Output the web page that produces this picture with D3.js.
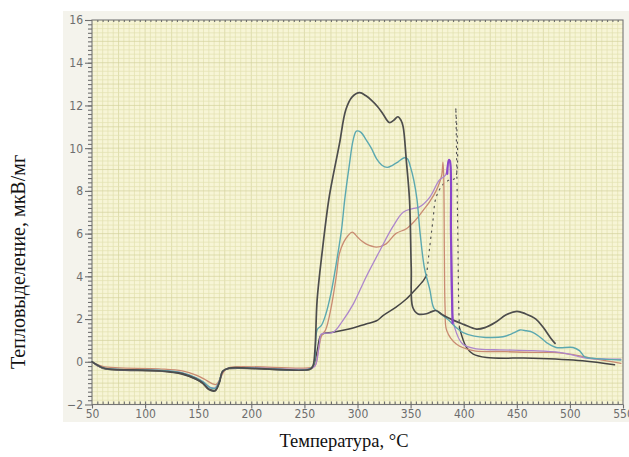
<!DOCTYPE html>
<html>
<head>
<meta charset="utf-8">
<script src="https://cdn.jsdelivr.net/npm/d3@7"></script>
<style>
  body { margin: 0; background: #fff; }
  .tick text { font-family: "DejaVu Sans Condensed", "DejaVu Sans", sans-serif; fill: #6d6d6d; font-size: 12px; }
</style>
</head>
<body>
<div id="dsc"></div>
<script>
// dimensions of the page and of the plot area
var W = 629, H = 457;
var plot = {left: 92, right: 623, top: 20, bottom: 404.5};

// ---- data ----
var xTicks = [50, 100, 150, 200, 250, 300, 350, 400, 450, 500, 550];
var yTicks = [-2, 0, 2, 4, 6, 8, 10, 12, 14, 16];

// dark curve with the big peak
var tA = [50, 55, 60, 66, 113, 135, 148, 154, 160, 166, 170, 173, 179, 207, 255, 258, 260, 262, 267, 273, 277, 283, 289, 295, 302, 308, 313, 319, 324, 330, 334, 338, 341, 343, 346, 349, 350.6, 352, 357, 365, 370, 374, 380, 390, 400, 412, 420, 430, 440, 450, 458, 468, 475, 482, 486];
var vA = [0, -0.15, -0.28, -0.34, -0.42, -0.55, -0.8, -0.98, -1.28, -1.34, -0.95, -0.45, -0.3, -0.32, -0.35, -0.2, 0.6, 2.9, 5.25, 7.6, 8.7, 10.2, 11.8, 12.4, 12.6, 12.45, 12.25, 11.94, 11.6, 11.2, 11.3, 11.47, 11.3, 11.0, 9.4, 7.56, 4.4, 2.55, 2.24, 2.25, 2.35, 2.4, 2.2, 1.95, 1.75, 1.53, 1.6, 1.85, 2.2, 2.36, 2.25, 2.0, 1.6, 1.1, 0.86];

// teal curve
var tT = [50, 60, 66, 113, 135, 148, 155, 161, 166, 170, 173, 179, 207, 255, 259, 262, 266, 270, 275, 280, 285, 288, 292, 296, 299, 303, 308, 313, 318, 323, 328, 333, 338, 344, 347, 350, 353, 356, 359, 363, 368, 372, 377, 382, 387, 393, 399, 410, 421, 437, 447, 453, 459, 465, 472, 478, 487, 503, 509, 514, 525, 548];
var vT = [0, -0.27, -0.33, -0.4, -0.52, -0.75, -0.95, -1.2, -1.24, -0.9, -0.45, -0.3, -0.31, -0.33, -0.1, 1.5, 1.7, 2.2, 3.2, 4.6, 6.2, 7.6, 9.1, 10.4, 10.8, 10.75, 10.4, 10.0, 9.5, 9.2, 9.1, 9.2, 9.35, 9.55, 9.5, 9.1, 8.5, 7.6, 6.0, 4.4, 3.4, 2.5, 2.3, 2.1, 1.9, 1.6, 1.38, 1.2, 1.14, 1.17, 1.35, 1.49, 1.45, 1.38, 1.15, 0.9, 0.67, 0.67, 0.52, 0.23, 0.15, 0.08];

// salmon curve
var tS = [50, 60, 113, 135, 148, 156, 163, 167, 171, 175, 180, 255, 260, 263, 266, 270, 275, 280, 283, 287, 291, 295, 300, 304, 308, 318, 327, 336, 346, 354, 362, 368, 374, 378, 379.5, 380.5, 381.2, 381.8, 382.5, 384, 393, 409, 434, 465, 484, 503, 525, 548];
var vS = [0, -0.22, -0.33, -0.43, -0.62, -0.82, -1.02, -1.06, -0.75, -0.4, -0.26, -0.28, -0.18, 0.5, 1.2, 1.5, 2.5, 4.0, 5.07, 5.6, 5.9, 6.07, 5.84, 5.65, 5.52, 5.37, 5.52, 6.0, 6.23, 6.6, 7.1, 7.5, 8.0, 8.5, 8.8, 9.35, 8.6, 5.0, 2.5, 1.46, 0.83, 0.52, 0.48, 0.44, 0.44, 0.33, 0.12, -0.07];

// lavender curve
var tL = [50, 60, 113, 135, 148, 155, 161, 166, 170, 173, 179, 255, 260, 264, 266, 277, 286, 296, 308, 321, 333, 343, 352, 358, 368, 377, 383, 386, 387, 388, 389, 391.5, 399, 412, 434, 465, 490, 506, 515, 530, 548];
var vL = [0, -0.28, -0.4, -0.52, -0.75, -0.95, -1.2, -1.22, -0.9, -0.45, -0.3, -0.33, -0.2, 0.8, 1.3, 1.38, 1.92, 2.7, 3.96, 5.2, 6.3, 7.0, 7.17, 7.24, 7.7, 8.5, 8.75, 9.45, 9.4, 6.0, 2.5, 1.6, 0.83, 0.6, 0.56, 0.52, 0.44, 0.28, 0.17, 0.13, 0.12];

// violet spike drawn over the lavender one
var tV = [384.5, 386, 387, 388, 389.5];
var vV = [8.8, 9.45, 9.4, 6.0, 1.8];

// dark slow curve: solid start, dotted middle, solid tail
var tB1 = [50, 60, 113, 135, 148, 154, 160, 166, 170, 173, 179, 255, 258, 262, 265, 268, 277, 292, 308, 318, 324, 336, 346, 355, 362, 365];
var vB1 = [0, -0.3, -0.43, -0.58, -0.82, -1.0, -1.3, -1.36, -0.95, -0.45, -0.32, -0.36, -0.25, 0.5, 1.2, 1.32, 1.38, 1.53, 1.77, 1.92, 2.16, 2.55, 2.94, 3.41, 3.8, 4.04];
var tB2 = [365, 368, 371, 374, 380.5, 386, 392, 392.5, 393.5, 394.5, 395.3, 396];
var vB2 = [4.04, 5.37, 6.6, 7.7, 8.3, 8.5, 8.6, 11.9, 9.0, 5.8, 2.7, 1.6];
var tB3 = [396, 402.6, 409, 421.5, 465, 512, 542];
var vB3 = [1.6, 0.67, 0.36, 0.2, 0.17, 0.05, -0.14];

var series = [
  {t: tB1, v: vB1, color: "#454545", w: 1.5},
  {t: tB2, v: vB2, color: "#555555", w: 1.2, dash: "1.2,5"},
  {t: tB3, v: vB3, color: "#454545", w: 1.5},
  {t: tS, v: vS, color: "#c98b72", w: 1.3},
  {t: tL, v: vL, color: "#ad86cc", w: 1.3},
  {t: tT, v: vT, color: "#5ba8b0", w: 1.4},
  {t: tA, v: vA, color: "#4d4d4d", w: 1.7},
  {t: tV, v: vV, color: "#8a45c9", w: 2.2}
];

var svg = d3.select("#dsc").append("svg")
  .attr("width", W)
  .attr("height", H);

// scanned paper background
svg.append("rect")
  .attr("x", 63).attr("y", 11)
  .attr("width", W - 63).attr("height", 411)
  .attr("fill", "#f4f3ec");

var x = d3.scaleLinear().domain([50, 550]).range([plot.left, plot.right]);
var y = d3.scaleLinear().domain([-2, 16]).range([plot.bottom, plot.top]);

// plot area
svg.append("rect")
  .attr("x", plot.left).attr("y", plot.top)
  .attr("width", plot.right - plot.left).attr("height", plot.bottom - plot.top)
  .attr("fill", "#f7f5d6");

// grid (5 deg by 0.2 units)
var gx = d3.range(55, 550, 5);
var gy = d3.range(1, 90).map(function(i) { return -2 + i * 0.2; });

svg.append("g").selectAll("line")
  .data(gx)
  .enter().append("line")
    .attr("x1", function(d) { return x(d); })
    .attr("x2", function(d) { return x(d); })
    .attr("y1", plot.top).attr("y2", plot.bottom)
    .attr("stroke", function(d) { return d % 25 == 0 ? "#d4d39c" : "#e3e1b0"; })
    .attr("stroke-width", 0.7);

svg.append("g").selectAll("line")
  .data(gy)
  .enter().append("line")
    .attr("y1", function(d) { return y(d); })
    .attr("y2", function(d) { return y(d); })
    .attr("x1", plot.left).attr("x2", plot.right)
    .attr("stroke", function(d, i) { return (i + 1) % 5 == 0 ? "#d4d39c" : "#e3e1b0"; })
    .attr("stroke-width", 0.7);

// frame
svg.append("rect")
  .attr("x", plot.left).attr("y", plot.top)
  .attr("width", plot.right - plot.left).attr("height", plot.bottom - plot.top)
  .attr("fill", "none")
  .attr("stroke", "#767676")
  .attr("stroke-width", 1.1);

// minor ticks
svg.append("g")
  .attr("transform", "translate(" + plot.left + ",0)")
  .call(d3.axisLeft(y).tickValues(gy).tickSize(4).tickFormat(""));
svg.append("g")
  .attr("transform", "translate(0," + plot.bottom + ")")
  .call(d3.axisTop(x).tickValues(gx).tickSize(3).tickFormat(""));
svg.append("g")
  .attr("transform", "translate(0," + plot.top + ")")
  .call(d3.axisBottom(x).tickValues(gx).tickSize(2).tickFormat(""));

// major ticks with labels
svg.append("g")
  .attr("transform", "translate(" + plot.left + ",0)")
  .call(d3.axisLeft(y).tickValues(yTicks).tickSize(7).tickPadding(2).tickFormat(d3.format("d")));
svg.append("g")
  .attr("transform", "translate(0," + plot.bottom + ")")
  .call(d3.axisBottom(x).tickValues(xTicks).tickSize(4).tickPadding(1));

svg.selectAll(".domain").remove();
svg.selectAll(".tick line").attr("stroke", "#6f6f6f").attr("stroke-width", 1.1);

// curves
var line = d3.line()
  .x(function(d) { return x(d[0]); })
  .y(function(d) { return y(d[1]); })
  .curve(d3.curveCatmullRom.alpha(0.5));

series.forEach(function(s) {
  var pts = s.t.map(function(t, i) { return [t, s.v[i]]; });
  svg.append("path")
    .datum(pts)
    .attr("d", line)
    .attr("fill", "none")
    .attr("stroke", s.color)
    .attr("stroke-width", s.w)
    .attr("stroke-dasharray", s.dash || null)
    .attr("stroke-linejoin", "round")
    .attr("stroke-linecap", "round");
});

// axis titles
svg.append("text")
  .attr("x", 344).attr("y", 447)
  .attr("text-anchor", "middle")
  .style("font-family", "Liberation Serif, serif")
  .style("font-size", "18.5px")
  .style("fill", "#111")
  .text("Температура, °C");

svg.append("text")
  .attr("transform", "translate(25,262) rotate(-90)")
  .attr("text-anchor", "middle")
  .style("font-family", "Liberation Serif, serif")
  .style("font-size", "20px")
  .style("fill", "#111")
  .text("Тепловыделение, мкВ/мг");
</script>
</body>
</html>
